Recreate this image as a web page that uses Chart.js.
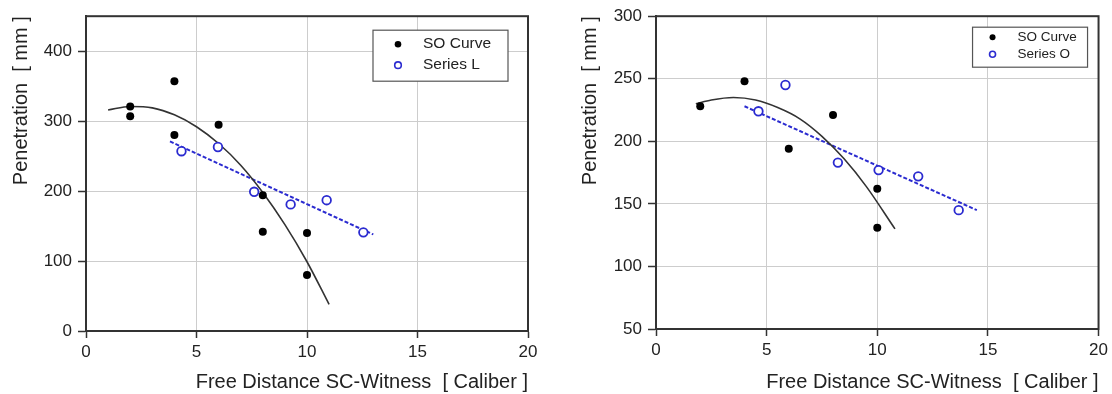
<!DOCTYPE html>
<html>
<head>
<meta charset="utf-8">
<script src="https://cdn.jsdelivr.net/npm/chart.js@4"></script>
<style>
  body { margin: 0; background: #fff; }
  .panel { position: absolute; top: 0; width: 556px; height: 394px; }
</style>
</head>
<body>
<div class="panel" style="left:0"><canvas id="left" width="556" height="394"></canvas></div>
<div class="panel" style="left:556px"><canvas id="right" width="556" height="394"></canvas></div>
<script>
// left panel: Series L
const leftSoX = [2, 2, 4, 4, 6, 8, 8, 10, 10];
const leftSoY = [321, 307, 357, 280, 295, 194, 142, 140, 80];
const leftLX = [4.32, 5.97, 7.61, 9.26, 10.89, 12.55];
const leftLY = [257, 263, 199, 181, 187, 141];
// fitted curve / trend
const leftFitX = [1, 2, 3, 4, 5, 6, 7, 8, 9, 10, 11];
const leftFitY = [316, 321, 319, 309, 292, 268, 237, 198, 152, 99, 38];
const leftTrendX = [3.8, 13.0];
const leftTrendY = [271, 138];

// right panel: Series O
const rightSoX = [2, 4, 6, 8, 10, 10];
const rightSoY = [228, 248, 194, 221, 162, 131];
const rightOX = [4.63, 5.85, 8.22, 10.06, 11.85, 13.68];
const rightOY = [224, 245, 183, 177, 172, 145];
const rightFitX = [1.8, 2.5, 3.5, 4.5, 5.5, 6.5, 7.5, 8.5, 9.5, 10.8];
const rightFitY = [230, 233, 235, 233, 227, 218, 204, 186, 164, 130];
const rightTrendX = [4.0, 14.5];
const rightTrendY = [228, 145];

const xTicks = [0, 5, 10, 15, 20];
const leftYTicks = [0, 100, 200, 300, 400];
const rightYTicks = [50, 100, 150, 200, 250, 300];

const FONT = '"Liberation Sans", Arial, sans-serif';
const BLUE = '#2b2bd0';

const pts = (xs, ys) => xs.map((x, i) => ({ x: x, y: ys[i] }));

const frame = {
  id: 'frame',
  afterDatasetsDraw(chart) {
    const a = chart.chartArea, ctx = chart.ctx;
    ctx.save();
    ctx.strokeStyle = '#333';
    ctx.lineWidth = 2;
    ctx.strokeRect(a.left, a.top, a.right - a.left, a.bottom - a.top);
    ctx.restore();
  }
};

const boxLegend = {
  id: 'boxLegend',
  afterDatasetsDraw(chart, args, o) {
    const a = chart.chartArea, ctx = chart.ctx;
    const x0 = a.right - o.right - o.width;
    const y0 = a.top + o.top;
    ctx.save();
    ctx.fillStyle = '#fff';
    ctx.fillRect(x0, y0, o.width, o.height);
    ctx.strokeStyle = '#555';
    ctx.lineWidth = 1.2;
    ctx.strokeRect(x0, y0, o.width, o.height);
    ctx.font = o.fontSize + 'px ' + FONT;
    ctx.textBaseline = 'middle';
    o.items.forEach((idx, i) => {
      const ds = chart.data.datasets[idx];
      const y = y0 + o.rows[i];
      ctx.beginPath();
      ctx.arc(x0 + o.markerX, y, o.markerR, 0, Math.PI * 2);
      if (ds.pointBackgroundColor !== '#fff') {
        ctx.fillStyle = ds.pointBackgroundColor;
        ctx.fill();
      } else {
        ctx.strokeStyle = ds.pointBorderColor;
        ctx.lineWidth = 1.6;
        ctx.stroke();
      }
      ctx.fillStyle = '#222';
      ctx.fillText(ds.label, x0 + o.textX, y);
    });
    ctx.restore();
  }
};

function makeChart(id, cfg) {
  return new Chart(document.getElementById(id), {
    type: 'scatter',
    data: {
      datasets: [
        {
          label: 'SO Curve',
          data: pts(cfg.soX, cfg.soY),
          pointRadius: 4,
          pointBackgroundColor: '#000',
          pointBorderColor: '#000',
          pointBorderWidth: 0,
          order: 1
        },
        {
          label: cfg.seriesName,
          data: pts(cfg.sX, cfg.sY),
          pointRadius: 4.3,
          pointBackgroundColor: '#fff',
          pointBorderColor: BLUE,
          pointBorderWidth: 1.8,
          order: 0
        },
        {
          label: 'fit',
          data: pts(cfg.fitX, cfg.fitY),
          showLine: true,
          pointRadius: 0,
          borderColor: '#333',
          borderWidth: 1.6,
          cubicInterpolationMode: 'monotone',
          order: 2
        },
        {
          label: 'trend',
          data: pts(cfg.trendX, cfg.trendY),
          showLine: true,
          pointRadius: 0,
          borderColor: BLUE,
          borderWidth: 2,
          borderDash: [4, 2],
          order: 2
        }
      ]
    },
    options: {
      responsive: false,
      animation: false,
      devicePixelRatio: 1,
      layout: { padding: cfg.padding },
      plugins: {
        legend: { display: false },
        tooltip: { enabled: false },
        boxLegend: cfg.legend
      },
      scales: {
        x: {
          type: 'linear',
          min: 0, max: 20,
          afterBuildTicks: s => { s.ticks = xTicks.map(v => ({ value: v })); },
          afterFit: s => { s.height = cfg.xAxisHeight; },
          ticks: { color: '#222', padding: 4, font: { family: FONT, size: 17 } },
          grid: { color: '#cdcdcd', lineWidth: 1, tickLength: 7, tickColor: '#333', tickWidth: 1.5 },
          border: { color: '#333', width: 2 },
          title: {
            display: true,
            text: 'Free Distance SC-Witness  [ Caliber ]',
            align: 'end',
            color: '#222',
            font: { family: FONT, size: 20, lineHeight: 1.2 },
            padding: { top: 0, bottom: 0 }
          }
        },
        y: {
          type: 'linear',
          min: cfg.yMin, max: cfg.yMax,
          afterBuildTicks: s => { s.ticks = cfg.yTicks.map(v => ({ value: v })); },
          afterFit: s => { s.width = cfg.yAxisWidth; },
          ticks: { color: '#222', padding: 6, font: { family: FONT, size: 17 } },
          grid: { color: '#cdcdcd', lineWidth: 1, tickLength: 8, tickColor: '#333', tickWidth: 1.5 },
          border: { color: '#333', width: 2 },
          title: {
            display: true,
            text: 'Penetration  [ mm ]',
            align: 'end',
            color: '#222',
            font: { family: FONT, size: 20, lineHeight: 1.2 },
            padding: { top: cfg.yTitlePad, bottom: 0 }
          }
        }
      }
    },
    plugins: [frame, boxLegend]
  });
}

makeChart('left', {
  soX: leftSoX, soY: leftSoY, sX: leftLX, sY: leftLY,
  fitX: leftFitX, fitY: leftFitY, trendX: leftTrendX, trendY: leftTrendY,
  seriesName: 'Series L',
  yMin: 0, yMax: 450, yTicks: leftYTicks,
  padding: { left: 0, top: 15, right: 28, bottom: 0 },
  yAxisWidth: 86, xAxisHeight: 63, yTitlePad: 9,
  legend: { right: 20, top: 14, width: 135, height: 51, markerX: 25, textX: 50,
            rows: [14, 35], fontSize: 15.5, markerR: 3.3, items: [0, 1] }
});

makeChart('right', {
  soX: rightSoX, soY: rightSoY, sX: rightOX, sY: rightOY,
  fitX: rightFitX, fitY: rightFitY, trendX: rightTrendX, trendY: rightTrendY,
  seriesName: 'Series O',
  yMin: 50, yMax: 300, yTicks: rightYTicks,
  padding: { left: 0, top: 14, right: 13, bottom: 0 },
  yAxisWidth: 100, xAxisHeight: 65, yTitlePad: 22,
  legend: { right: 11, top: 11, width: 115, height: 40, markerX: 20, textX: 45,
            rows: [10, 27], fontSize: 13.5, markerR: 3, items: [0, 1] }
});
</script>
</body>
</html>
